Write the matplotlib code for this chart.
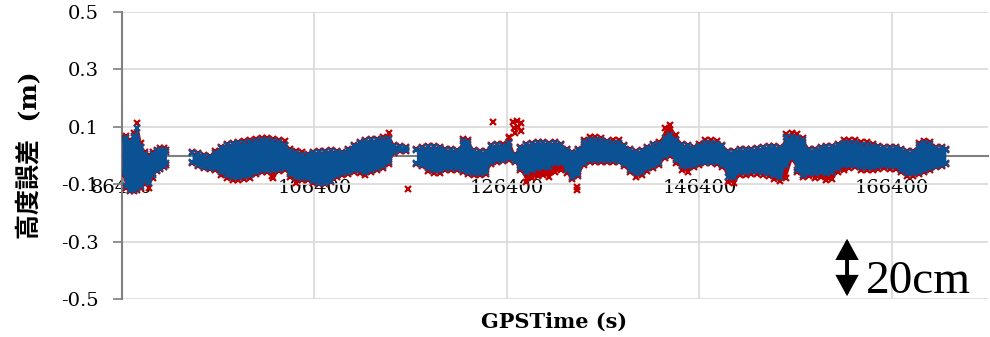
import numpy as np
import matplotlib.pyplot as plt
from matplotlib.patches import FancyArrowPatch

# 高度誤差データ（GPSTime [s] に対する上下包絡, 単位 m）
# 区間1
t1 = [86400, 86800, 87200, 87600, 88000, 88400, 88800, 89200, 89600, 90000, 90400, 90800, 91000]
blue_hi1 = [0.054, 0.061, 0.047, 0.068, 0.096, 0.030, 0.005, -0.005, 0.005, 0.016, 0.019, 0.019, 0.012]
blue_lo1 = [-0.057, -0.106, -0.120, -0.120, -0.113, -0.106, -0.089, -0.096, -0.068, -0.051, -0.044, -0.037, -0.026]
red_hi1 = [0.064, 0.068, 0.054, 0.078, 0.113, 0.044, 0.012, 0.002, 0.012, 0.019, 0.026, 0.026, 0.019]
red_lo1 = [-0.068, -0.113, -0.124, -0.124, -0.120, -0.113, -0.099, -0.113, -0.078, -0.054, -0.047, -0.040, -0.033]

# 区間2
t2 = [93700, 94300, 94900, 95500, 96100, 96700, 97300, 97900, 98500, 99100,
      99700, 100300, 100900, 101500, 102100, 102700, 103300, 103900, 104500, 105100,
      105700, 106300, 106900, 107500, 108100, 108700, 109300, 109900, 110500, 111100,
      111700, 112300, 112900, 113500, 114100, 114700, 115300, 115900]
blue_hi2 = [0.009, 0.005, -0.002, -0.005, 0.009, 0.026, 0.037, 0.040, 0.044, 0.044,
            0.047, 0.051, 0.054, 0.054, 0.051, 0.047, 0.037, 0.016, 0.009, 0.002,
            0.002, 0.009, 0.012, 0.012, 0.016, 0.012, 0.009, 0.019, 0.033, 0.044,
            0.051, 0.054, 0.054, 0.057, 0.057, 0.033, 0.030, 0.026]
blue_lo2 = [-0.023, -0.033, -0.040, -0.044, -0.044, -0.057, -0.068, -0.075, -0.075, -0.071,
            -0.068, -0.057, -0.051, -0.051, -0.051, -0.047, -0.044, -0.064, -0.075, -0.078,
            -0.078, -0.089, -0.096, -0.096, -0.089, -0.068, -0.061, -0.057, -0.051, -0.051,
            -0.057, -0.051, -0.044, -0.037, -0.023, 0.012, 0.019, 0.019]
red_hi2 = [0.012, 0.009, 0.002, -0.002, 0.016, 0.030, 0.040, 0.044, 0.047, 0.051,
           0.054, 0.057, 0.061, 0.061, 0.057, 0.054, 0.051, 0.023, 0.016, 0.012,
           0.005, 0.012, 0.016, 0.016, 0.019, 0.016, 0.012, 0.023, 0.037, 0.047,
           0.054, 0.057, 0.057, 0.064, 0.078, 0.037, 0.033, 0.030]
red_lo2 = [-0.026, -0.037, -0.044, -0.047, -0.051, -0.068, -0.078, -0.085, -0.085, -0.082,
           -0.078, -0.064, -0.057, -0.057, -0.078, -0.054, -0.051, -0.075, -0.096, -0.085,
           -0.085, -0.096, -0.099, -0.099, -0.092, -0.075, -0.068, -0.064, -0.057, -0.061,
           -0.068, -0.057, -0.051, -0.044, -0.030, 0.009, 0.016, 0.016]

# 区間3
t3 = [117000, 117600, 118200, 118800, 119400, 120000, 120600, 121200, 121800, 122400,
      123000, 123600, 124200, 124800, 125400, 126000, 126600, 127200, 127800, 128400,
      129000, 129600, 130200, 130800, 131400, 132000, 132600, 133200, 133800, 134400,
      135000, 135600, 136200, 136800, 137400, 138000, 138600, 139200, 139800, 140400,
      141000, 141600, 142200, 142800, 143400, 144000, 144600, 145200, 145800, 146400,
      147000, 147600, 148200, 148800, 149400, 150000, 150600, 151200, 151800, 152400,
      153000, 153600, 154200, 154800, 155400, 156000, 156600, 157200, 157800, 158400,
      159000, 159600, 160200, 160800, 161400, 162000, 162600, 163200, 163800, 164400,
      165000, 165600, 166200, 166800, 167400, 168000, 168600, 169200, 169800, 170400,
      171000, 171600, 172000]
blue_hi3 = [0.019, 0.026, 0.030, 0.030, 0.026, 0.019, 0.019, 0.016, 0.051, 0.047,
            0.016, 0.012, 0.012, 0.033, 0.037, 0.033, 0.044, 0.002, 0.026, 0.037,
            0.040, 0.044, 0.044, 0.040, 0.044, 0.037, 0.019, 0.009, 0.019, 0.047,
            0.054, 0.054, 0.054, 0.047, 0.044, 0.044, 0.033, 0.019, 0.012, 0.016,
            0.026, 0.037, 0.040, 0.061, 0.071, 0.054, 0.037, 0.033, 0.026, 0.033,
            0.044, 0.044, 0.040, 0.033, 0.012, 0.012, 0.019, 0.019, 0.019, 0.023,
            0.026, 0.030, 0.030, 0.026, 0.064, 0.064, 0.061, 0.054, 0.019, 0.019,
            0.026, 0.030, 0.030, 0.037, 0.044, 0.044, 0.044, 0.037, 0.037, 0.033,
            0.030, 0.026, 0.026, 0.026, 0.019, 0.012, 0.012, 0.037, 0.044, 0.040,
            0.026, 0.026, 0.019]
blue_lo3 = [-0.026, -0.033, -0.044, -0.051, -0.051, -0.044, -0.044, -0.044, -0.051, -0.057,
            -0.061, -0.061, -0.057, -0.023, -0.016, -0.016, -0.009, -0.019, -0.044, -0.057,
            -0.051, -0.044, -0.040, -0.040, -0.026, -0.026, -0.051, -0.075, -0.064, -0.026,
            -0.016, -0.016, -0.016, -0.016, -0.016, -0.019, -0.030, -0.051, -0.061, -0.057,
            -0.044, -0.037, -0.026, -0.002, 0.005, -0.016, -0.037, -0.037, -0.033, -0.026,
            -0.023, -0.023, -0.023, -0.033, -0.075, -0.075, -0.057, -0.057, -0.054, -0.054,
            -0.057, -0.061, -0.068, -0.075, -0.033, -0.009, -0.051, -0.068, -0.061, -0.061,
            -0.057, -0.061, -0.057, -0.044, -0.033, -0.033, -0.033, -0.040, -0.040, -0.040,
            -0.037, -0.033, -0.037, -0.037, -0.051, -0.061, -0.061, -0.057, -0.051, -0.044,
            -0.037, -0.033, -0.026]
red_hi3 = [0.023, 0.030, 0.033, 0.033, 0.030, 0.023, 0.023, 0.019, 0.057, 0.054,
           0.019, 0.016, 0.016, 0.037, 0.040, 0.040, 0.064, 0.005, 0.030, 0.040,
           0.044, 0.047, 0.047, 0.044, 0.047, 0.040, 0.023, 0.012, 0.023, 0.054,
           0.064, 0.064, 0.061, 0.051, 0.054, 0.054, 0.037, 0.023, 0.016, 0.019,
           0.030, 0.040, 0.047, 0.096, 0.106, 0.071, 0.040, 0.037, 0.030, 0.040,
           0.054, 0.054, 0.051, 0.037, 0.016, 0.016, 0.023, 0.023, 0.023, 0.026,
           0.030, 0.033, 0.033, 0.030, 0.075, 0.078, 0.075, 0.061, 0.023, 0.023,
           0.030, 0.033, 0.033, 0.040, 0.054, 0.054, 0.054, 0.047, 0.047, 0.040,
           0.033, 0.030, 0.030, 0.030, 0.023, 0.016, 0.016, 0.044, 0.051, 0.047,
           0.030, 0.030, 0.023]
red_lo3 = [-0.030, -0.037, -0.054, -0.061, -0.061, -0.051, -0.051, -0.051, -0.057, -0.064,
           -0.068, -0.068, -0.064, -0.030, -0.023, -0.019, -0.016, -0.023, -0.051, -0.092,
           -0.078, -0.071, -0.068, -0.075, -0.057, -0.051, -0.061, -0.082, -0.071, -0.033,
           -0.023, -0.023, -0.023, -0.023, -0.023, -0.023, -0.037, -0.057, -0.075, -0.068,
           -0.054, -0.044, -0.033, -0.009, -0.002, -0.026, -0.051, -0.057, -0.040, -0.033,
           -0.026, -0.026, -0.030, -0.040, -0.092, -0.096, -0.068, -0.068, -0.064, -0.064,
           -0.068, -0.071, -0.082, -0.089, -0.078, -0.016, -0.057, -0.075, -0.071, -0.078,
           -0.075, -0.085, -0.082, -0.057, -0.051, -0.044, -0.040, -0.051, -0.051, -0.051,
           -0.047, -0.044, -0.047, -0.047, -0.057, -0.071, -0.071, -0.064, -0.057, -0.051,
           -0.040, -0.037, -0.030]

# 赤系列の外れ値
red_out_t = [101990, 101990, 101990, 116120, 124960, 126620, 126620, 127040, 127140,
             127250, 127450, 127560, 127870, 127870, 133690, 133690]
red_out_h = [-0.020, -0.045, -0.070, -0.117, 0.117, 0.061, 0.047, 0.117, 0.096,
             0.078, 0.120, 0.099, 0.113, 0.085, -0.110, -0.120]

x_ticks = [86400, 106400, 126400, 146400, 166400]
y_ticks = [-0.5, -0.3, -0.1, 0.1, 0.3, 0.5]
scale_bar = 0.2  # 20cm

blue = '#0A5294'
red = '#C00000'

segments = [
    (t1, blue_hi1, blue_lo1, red_hi1, red_lo1),
    (t2, blue_hi2, blue_lo2, red_hi2, red_lo2),
    (t3, blue_hi3, blue_lo3, red_hi3, red_lo3),
]

fig = plt.figure(figsize=(9.9, 3.37), dpi=100)
ax = fig.add_axes([122 / 990, 1 - 299 / 337, 866 / 990, 287 / 337])

mk = dict(marker='x', ls='none', ms=5, mew=1.6)

# 赤を先に、青を上に重ねる
for t, bh, bl, rh, rl in segments:
    ax.fill_between(t, rl, rh, color=red, lw=0, zorder=3)
    ax.plot(t, rh, color=red, zorder=3, **mk)
    ax.plot(t, rl, color=red, zorder=3, **mk)
ax.plot(red_out_t, red_out_h, color=red, zorder=3, **mk)

for t, bh, bl, rh, rl in segments:
    ax.fill_between(t, bl, bh, color=blue, lw=0, zorder=4)
    ax.plot(t, bh, color=blue, zorder=4, **mk)
    ax.plot(t, bl, color=blue, zorder=4, **mk)

ax.set_xlim(86400, 176400)
ax.set_ylim(-0.5, 0.5)
ax.set_xticks(x_ticks)
ax.set_yticks(y_ticks)
ax.set_yticklabels(['%.1f' % v for v in y_ticks])

ax.grid(True, color='#D9D9D9', lw=1.2, zorder=0)
ax.set_axisbelow(True)

for s in ['top', 'right']:
    ax.spines[s].set_visible(False)
ax.spines['left'].set_color('#7F7F7F')
ax.spines['left'].set_linewidth(1.5)
ax.spines['bottom'].set_position(('data', 0))
ax.spines['bottom'].set_color('#7F7F7F')
ax.spines['bottom'].set_linewidth(1.5)

ax.tick_params(axis='y', direction='out', length=6.5, width=1.2, color='#7F7F7F',
               pad=10, labelsize=14)
ax.tick_params(axis='x', length=0, pad=17, labelsize=14)
for lab in ax.get_xticklabels() + ax.get_yticklabels():
    lab.set_fontfamily('DejaVu Serif')

fig.text(30 / 990, 1 - 155 / 337, '高度誤差  (m)', rotation=90, ha='center', va='center',
         fontsize=18, fontweight='bold', family=['DejaVu Serif', 'Noto Sans CJK JP'])
fig.text(554 / 990, 1 - 322 / 337, 'GPSTime (s)', ha='center', va='center',
         fontsize=15, fontweight='bold', family='DejaVu Serif')

# 20cm スケール（両矢印）
x_bar = 161750
y_top = -0.29
arrow = FancyArrowPatch((x_bar, y_top), (x_bar, y_top - scale_bar),
                        arrowstyle='<|-|>,head_length=1.0,head_width=0.55',
                        mutation_scale=11, lw=2.8, color='black',
                        shrinkA=0, shrinkB=0, joinstyle='miter', zorder=6)
ax.add_patch(arrow)
fig.text(866 / 990, 1 - 293 / 337, '20cm', ha='left', va='baseline',
         fontsize=34, family='Liberation Serif')

fig.savefig('out.png', dpi=100, facecolor='white')
